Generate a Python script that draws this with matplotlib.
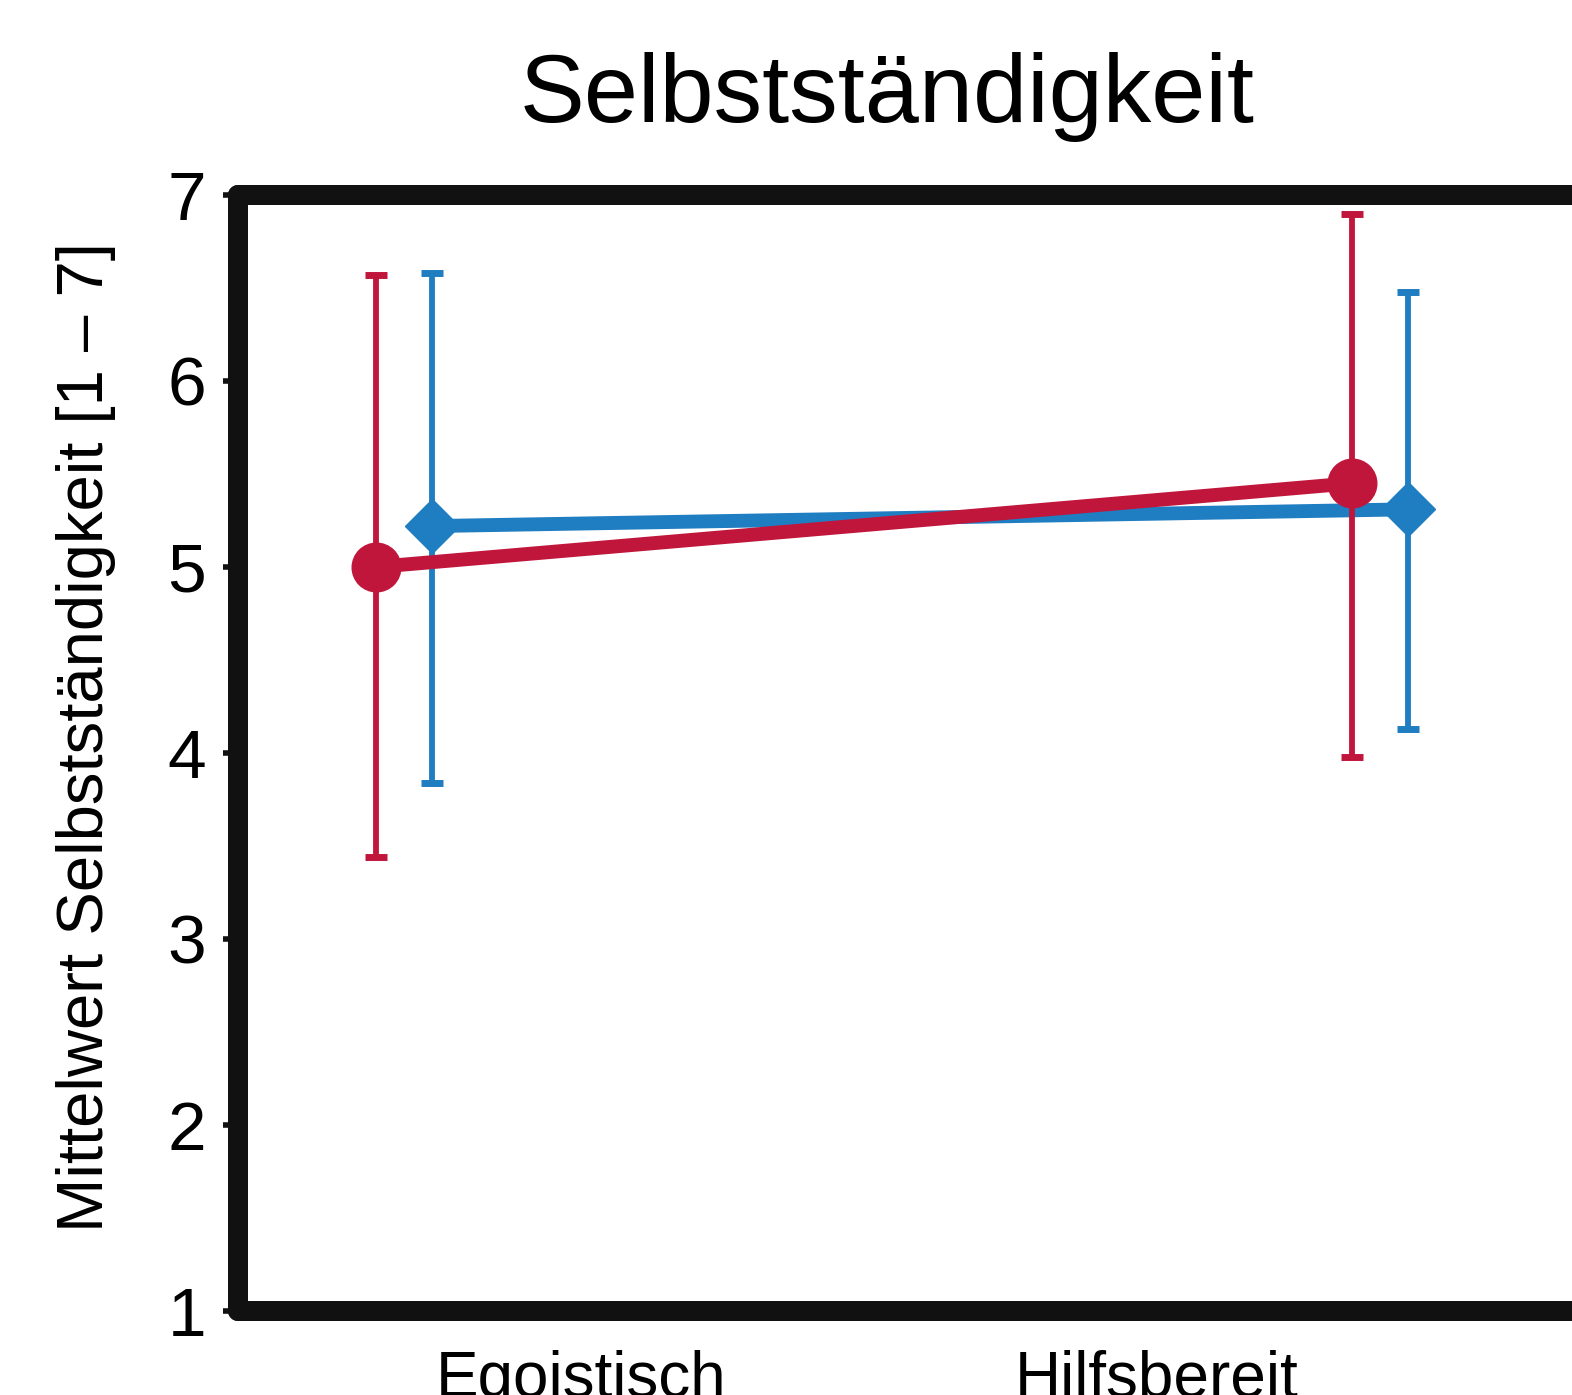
import matplotlib
matplotlib.use("Agg")
import matplotlib.pyplot as plt
import numpy as np

plt.rcParams['font.family'] = ['Liberation Sans', 'DejaVu Sans']

# ---- data ----
categories = ["Egoistisch", "Hilfsbereit"]
red_mean = [5.00, 5.45]
red_low = [3.44, 3.98]
red_high = [6.57, 6.90]
blue_mean = [5.22, 5.31]
blue_low = [3.84, 4.13]
blue_high = [6.58, 6.48]
yticks = [1, 2, 3, 4, 5, 6, 7]
title = "Selbstständigkeit"
ylabel = "Mittelwert Selbstständigkeit [1 – 7]"

# ---- layout / style ----
RED = '#C1163C'
BLUE = '#1F7DC1'
dodge = 0.029
label_pos = [0.182, 0.771]

fig = plt.figure(figsize=(15.72, 13.95), dpi=100)
ax = fig.add_axes([238/1572, 84/1395, (1620-238)/1572, 0.800])

x = np.arange(len(categories))
bm = np.array(blue_mean); rm = np.array(red_mean)
ax.errorbar(x + dodge, bm, yerr=[bm - np.array(blue_low), np.array(blue_high) - bm],
            color=BLUE, marker='D', markersize=28, linewidth=10, elinewidth=4.2,
            capsize=8, capthick=5, zorder=3)
ax.errorbar(x - dodge, rm, yerr=[rm - np.array(red_low), np.array(red_high) - rm],
            color=RED, marker='o', markersize=35, linewidth=10, elinewidth=4.2,
            capsize=8, capthick=5, zorder=4)

ax.set_xlim(-0.170, 1.246)
ax.set_ylim(1, 7)
ax.set_yticks(yticks)
ax.set_yticklabels([str(t) for t in yticks], fontsize=50)
ax.set_xticks(label_pos)
ax.set_xticklabels(categories, fontsize=46)
ax.tick_params(axis='x', length=0, pad=28)
ax.tick_params(axis='y', length=11, width=4, color='#111111', pad=12, direction='out')

for side in ['left', 'top', 'bottom']:
    ax.spines[side].set_linewidth(14.4)
    ax.spines[side].set_color('#111111')
    ax.spines[side].set_capstyle('round')
ax.spines['right'].set_visible(False)

ax.set_ylabel(ylabel, fontsize=47)
ax.yaxis.set_label_coords(-0.088, 0.514)

fig.text(887/1572, 1273/1395, title, fontsize=70, ha='center', va='baseline')

fig.savefig("out.png", dpi=100)
